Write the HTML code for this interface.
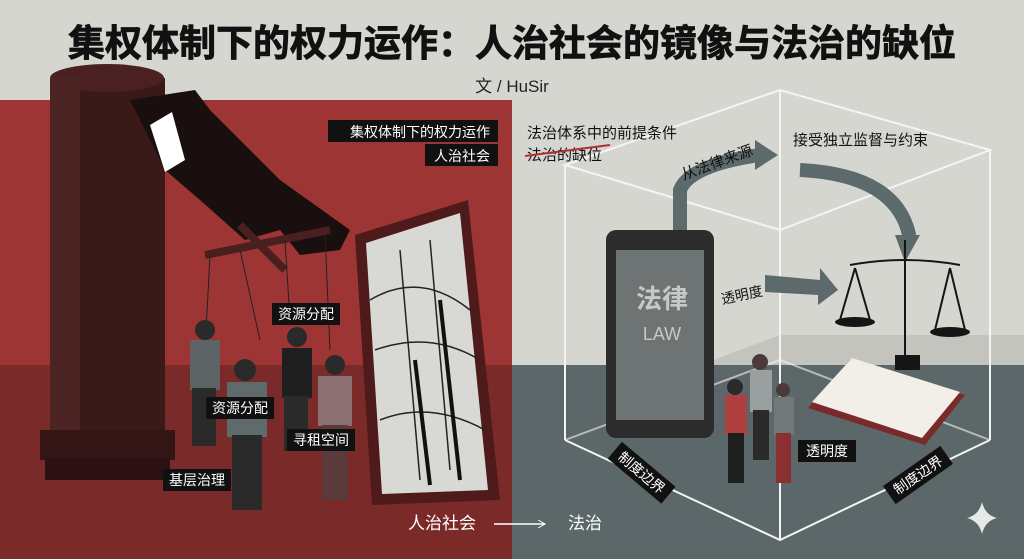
<!DOCTYPE html>
<html><head><meta charset="utf-8"><style>
body{margin:0;width:1024px;height:559px;overflow:hidden;background:#d6d6d1;font-family:"Liberation Sans","Noto Sans CJK SC",sans-serif}
svg{display:block}
.t{font-family:"Liberation Sans","Noto Sans CJK SC",sans-serif}
</style></head><body>
<svg width="1024" height="559" viewBox="0 0 1024 559" xmlns="http://www.w3.org/2000/svg">
<rect width="1024" height="559" fill="#d6d6d1"/>
<rect x="0" y="100" width="512" height="459" fill="#9e3535"/>
<rect x="0" y="365" width="512" height="194" fill="#7b2a2a"/>
<rect x="512" y="365" width="512" height="194" fill="#5c6769"/>
<polygon points="700,365 780,335 1024,335 1024,365" fill="#c4c4bf"/>
<polygon points="565,440 700,365 780,340 780,365" fill="#5c6769" opacity="0"/>
<text x="512" y="56" text-anchor="middle" class="t" font-size="37" font-weight="bold" fill="#111" stroke="#111" stroke-width="0.8">集权体制下的权力运作：人治社会的镜像与法治的缺位</text>
<text x="512" y="92" text-anchor="middle" class="t" font-size="17" fill="#222">文 / HuSir</text>
<rect x="50" y="78" width="115" height="360" fill="#3a1919"/>
<ellipse cx="107" cy="78" rx="57" ry="14" fill="#4a2020"/>
<rect x="50" y="78" width="30" height="360" fill="#4d2424"/>
<rect x="40" y="430" width="135" height="30" fill="#331515"/>
<rect x="45" y="458" width="125" height="22" fill="#2b1111"/>
<polygon points="130,100 195,90 210,110 280,180 350,230 340,250 300,255 280,230 245,240 200,200 165,170" fill="#1a0f0f"/>
<polygon points="150,125 172,112 185,160 165,172" fill="#fff"/>
<line x1="205" y1="255" x2="330" y2="230" stroke="#4a1f1f" stroke-width="8"/>
<line x1="240" y1="225" x2="285" y2="270" stroke="#4a1f1f" stroke-width="8"/>
<g stroke="#222" stroke-width="1">
<line x1="210" y1="255" x2="205" y2="350"/><line x1="240" y1="250" x2="260" y2="340"/><line x1="285" y1="240" x2="290" y2="320"/><line x1="325" y1="235" x2="330" y2="350"/>
</g>
<g fill="#2a2a2a">
<circle cx="205" cy="330" r="10"/><rect x="190" y="340" width="30" height="50" fill="#5d6466"/><rect x="192" y="388" width="24" height="58"/>
<circle cx="245" cy="370" r="11"/><rect x="227" y="382" width="40" height="55" fill="#5f6a6c"/><rect x="232" y="435" width="30" height="75"/>
<circle cx="297" cy="337" r="10"/><rect x="282" y="348" width="30" height="50" fill="#1f1f1f"/><rect x="284" y="396" width="24" height="55"/>
<circle cx="335" cy="365" r="10"/><rect x="318" y="376" width="34" height="50" fill="#8a7070"/><rect x="322" y="425" width="26" height="75" fill="#5a3a3a"/>
</g>
<polygon points="355,235 468,200 500,500 372,505" fill="#4e1a1a"/>
<polygon points="366,243 460,213 488,490 382,494" fill="#d8d8d4"/>
<g stroke="#222" stroke-width="1.5" fill="none">
<path d="M370,300 Q420,270 470,310"/><path d="M375,350 Q430,330 480,360"/><path d="M400,250 L420,480"/><path d="M430,240 L450,470"/><path d="M380,420 Q430,400 485,430"/>
</g>
<line x1="440" y1="300" x2="460" y2="480" stroke="#111" stroke-width="4"/>
<line x1="415" y1="360" x2="430" y2="485" stroke="#111" stroke-width="4"/>
<g stroke="#f4f4f4" stroke-width="2" fill="none">
<polygon points="565,165 780,90 990,150 780,230"/>
<line x1="565" y1="165" x2="565" y2="440"/><line x1="780" y1="230" x2="780" y2="540"/><line x1="990" y1="150" x2="990" y2="440"/><line x1="780" y1="90" x2="780" y2="360"/>
<polyline points="565,440 780,540 990,440"/>
<polyline points="565,440 780,360 990,440" stroke-opacity="0.6"/>
</g>
<path d="M680,230 L680,190 Q690,165 760,155" stroke="#5d6a6c" stroke-width="14" fill="none"/>
<polygon points="755,140 778,155 755,170" fill="#5d6a6c"/>
<path d="M800,170 Q900,175 910,240" stroke="#5d6a6c" stroke-width="14" fill="none"/>
<polygon points="895,235 920,235 905,262" fill="#5d6a6c"/>
<polygon points="765,275 820,280 820,268 838,290 818,305 818,295 765,292" fill="#5d6a6c"/>
<rect x="606" y="230" width="108" height="208" rx="10" fill="#2c2c2c"/>
<rect x="616" y="250" width="88" height="170" fill="#6e7373"/>
<text x="662" y="308" text-anchor="middle" class="t" font-size="26" font-weight="bold" fill="#c8c8c8">法律</text>
<text x="662" y="340" text-anchor="middle" class="t" font-size="18" fill="#c8c8c8">LAW</text>
<g stroke="#151515" stroke-width="2" fill="none">
<line x1="905" y1="240" x2="905" y2="365"/><path d="M850,265 Q905,255 960,265"/>
<line x1="855" y1="268" x2="840" y2="320"/><line x1="855" y1="268" x2="870" y2="320"/>
<line x1="950" y1="268" x2="935" y2="330"/><line x1="950" y1="268" x2="965" y2="330"/>
</g>
<ellipse cx="855" cy="322" rx="20" ry="5" fill="#151515"/><ellipse cx="950" cy="332" rx="20" ry="5" fill="#151515"/>
<rect x="895" y="355" width="25" height="15" fill="#151515"/>
<polygon points="808,408 850,360 965,395 925,445" fill="#7a2a2a"/>
<polygon points="812,402 852,358 960,392 922,438" fill="#f2efe8"/>
<circle cx="735" cy="387" r="8" fill="#2a2a2a"/><rect x="725" y="395" width="22" height="40" fill="#b04040"/><rect x="728" y="433" width="16" height="50" fill="#1e1e1e"/>
<circle cx="760" cy="362" r="8" fill="#4a3a3a"/><rect x="750" y="370" width="22" height="42" fill="#9aa0a0"/><rect x="753" y="410" width="16" height="50" fill="#2a2a2a"/>
<circle cx="783" cy="390" r="7" fill="#4a3a3a"/><rect x="774" y="397" width="20" height="38" fill="#707878"/><rect x="776" y="433" width="15" height="50" fill="#8a3030"/>
<g class="t" font-size="14" fill="#fff">
<rect x="328" y="120" width="170" height="22" fill="#111"/><text x="490" y="137" text-anchor="end">集权体制下的权力运作</text>
<rect x="425" y="144" width="73" height="22" fill="#111"/><text x="490" y="161" text-anchor="end">人治社会</text>
<rect x="272" y="303" width="68" height="22" fill="#111"/><text x="306" y="319" text-anchor="middle">资源分配</text>
<rect x="206" y="397" width="68" height="22" fill="#111"/><text x="240" y="413" text-anchor="middle">资源分配</text>
<rect x="287" y="429" width="68" height="22" fill="#111"/><text x="321" y="445" text-anchor="middle">寻租空间</text>
<rect x="163" y="469" width="68" height="22" fill="#111"/><text x="197" y="485" text-anchor="middle">基层治理</text>
<text x="720" y="298" fill="#111" transform="rotate(-12 750 290)">透明度</text>
<rect x="798" y="440" width="58" height="22" fill="#111"/><text x="827" y="456" text-anchor="middle">透明度</text>
<g transform="rotate(40 640 470)"><rect x="608" y="460" width="70" height="22" fill="#111"/><text x="643" y="476" text-anchor="middle">制度边界</text></g>
<g transform="rotate(-35 918 475)"><rect x="883" y="464" width="70" height="22" fill="#111"/><text x="918" y="480" text-anchor="middle">制度边界</text></g>
</g>
<g class="t" font-size="15" fill="#111">
<text x="527" y="138">法治体系中的前提条件</text>
<text x="527" y="160">法治的缺位</text>
<line x1="525" y1="156" x2="610" y2="145" stroke="#b03030" stroke-width="2"/>
<text x="680" y="170" transform="rotate(-20 710 165)">从法律来源</text>
<text x="793" y="145">接受独立监督与约束</text>
</g>
<text x="408" y="529" class="t" font-size="17" fill="#fff">人治社会</text>
<line x1="494" y1="524" x2="545" y2="524" stroke="#fff" stroke-width="1.5"/>
<polyline points="538,520 545,524 538,528" stroke="#fff" fill="none"/>
<text x="568" y="529" class="t" font-size="17" fill="#fff">法治</text>
<path d="M982,502 Q985,515 997,518 Q985,521 982,534 Q979,521 967,518 Q979,515 982,502Z" fill="#e8e8e8"/>
</svg>
</body></html>
